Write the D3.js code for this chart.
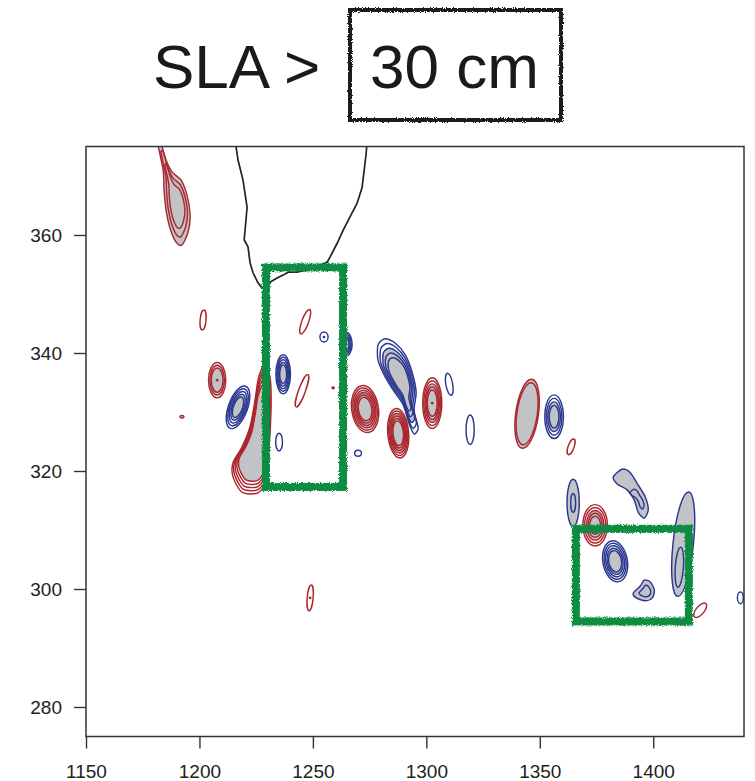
<!DOCTYPE html>
<html>
<head>
<meta charset="utf-8">
<script src="https://cdn.jsdelivr.net/npm/d3@7"></script>
<style>
  body { margin: 0; background: #fff; }
  svg { display: block; font-family: "Liberation Sans", Arial, sans-serif; }
</style>
</head>
<body>
<div id="chart"></div>
<script>
const width = 755, height = 781;

// axis ticks
const xTicks = [1150, 1200, 1250, 1300, 1350, 1400];
const yTicks = [280, 300, 320, 340, 360];

// elliptical eddies: x, y, rx, ry (data units), rot (deg), rings, ring step, filled ring, centre dot
const anticyclones = [
  {x: 1201.6, y: 345.6, rx: 1.3, ry: 1.7, rot: 5,  n: 1},
  {x: 1246.6, y: 345.3, rx: 1.5, ry: 2.2, rot: 20, n: 1},
  {x: 1207.8, y: 335.4, rx: 3.8, ry: 3.0, rot: 0,  n: 3, step: 0.16, fill: 1, dot: true},
  {x: 1245.2, y: 333.6, rx: 1.5, ry: 2.9, rot: 20, n: 1},
  {x: 1273.0, y: 330.5, rx: 5.9, ry: 4.0, rot: -8, n: 6, step: 0.1, fill: 2},
  {x: 1287.6, y: 326.4, rx: 4.6, ry: 4.2, rot: -5, n: 6, step: 0.1, fill: 2},
  {x: 1302.6, y: 331.5, rx: 4.2, ry: 4.3, rot: 0,  n: 5, step: 0.12, fill: 2, dot: true},
  {x: 1344.4, y: 329.7, rx: 5.0, ry: 5.9, rot: 8,  n: 2, step: 0.1, fill: 0},
  {x: 1363.8, y: 324.1, rx: 1.3, ry: 1.4, rot: 20, n: 1},
  {x: 1374.4, y: 310.8, rx: 5.4, ry: 3.5, rot: 0,  n: 5, step: 0.14, fill: 2},
  {x: 1420.7, y: 296.4, rx: 1.8, ry: 1.5, rot: 40, n: 1},
  {x: 1192.3, y: 329.2, rx: 0.9, ry: 0.2, rot: 0,  n: 1},
  {x: 1248.8, y: 298.5, rx: 1.3, ry: 2.2, rot: 5,  n: 1, dot: true},
  {x: 1258.9, y: 334.1, rx: 0.5, ry: 0.15, rot: 0, n: 1}
];

const cyclones = [
  {x: 1254.9, y: 342.7, rx: 1.8, ry: 0.85, rot: 0,  n: 1, dot: true},
  {x: 1264.6, y: 341.5, rx: 2.7, ry: 2.0, rot: 0,  n: 4, step: 0.17, fill: 1, dot: true},
  {x: 1217.0, y: 330.8, rx: 4.2, ry: 3.8, rot: 20, n: 5, step: 0.13, fill: 3},
  {x: 1235.1, y: 324.9, rx: 1.5, ry: 1.5, rot: 0,  n: 1},
  {x: 1236.9, y: 336.4, rx: 3.2, ry: 3.3, rot: 0,  n: 5, step: 0.13, fill: 3},
  {x: 1269.9, y: 323.0, rx: 1.5, ry: 0.5, rot: 0,  n: 1},
  {x: 1310.1, y: 334.7, rx: 1.5, ry: 1.9, rot: -10, n: 1},
  {x: 1319.3, y: 327.0, rx: 1.8, ry: 2.5, rot: 0,  n: 1},
  {x: 1356.3, y: 329.2, rx: 4.1, ry: 3.7, rot: 0,  n: 4, step: 0.16, fill: 2},
  {x: 1364.7, y: 314.6, rx: 2.7, ry: 4.0, rot: 0,  n: 2, step: 0.6, fill: 0},
  {x: 1383.2, y: 304.7, rx: 5.4, ry: 3.5, rot: -10, n: 5, step: 0.12, fill: 3},
  {x: 1413.2, y: 307.6, rx: 4.5, ry: 8.9, rot: 6,  n: 1, fill: 0},
  {x: 1411.5, y: 303.7, rx: 1.8, ry: 3.4, rot: 4,  n: 1},
  {x: 1438.4, y: 298.5, rx: 1.3, ry: 1.0, rot: 0,  n: 1}
];

// irregular eddies: outer contour points, inner rings shrink towards the core
const shapedEddies = [
  {type: "A", core: [1190.1, 365.4], n: 3, step: 0.2, fill: 0, pts: [
    [1182.6, 376.1], [1185.3, 372.7], [1187.9, 370.7], [1191.9, 369.3], [1194.5, 366.8],
    [1195.9, 363.4], [1195.0, 360.5], [1192.3, 358.3], [1189.7, 358.8], [1187.0, 361.2],
    [1185.3, 364.2], [1184.4, 367.6], [1184.0, 371.0], [1181.3, 376.1]]},
  {type: "A", core: [1225.4, 324.4], n: 5, step: 0.065, fill: 4, pts: [
    [1228.9, 338.0], [1231.1, 335.9], [1231.6, 332.0], [1231.1, 326.4], [1230.2, 321.9],
    [1229.8, 318.5], [1225.8, 316.3], [1218.8, 316.4], [1214.8, 319.0], [1214.8, 321.4],
    [1218.8, 324.1], [1222.3, 327.5], [1224.5, 332.0], [1225.8, 335.4], [1227.6, 337.5]]},
  {type: "C", core: [1289.3, 335.1], n: 5, step: 0.11, fill: 2, pts: [
    [1278.7, 341.4], [1281.8, 342.4], [1286.2, 341.7], [1290.7, 339.7], [1293.7, 336.8],
    [1295.5, 333.4], [1294.6, 330.3], [1296.4, 327.3], [1294.6, 326.3], [1292.4, 328.0],
    [1289.8, 331.2], [1285.4, 333.7], [1281.4, 336.3], [1278.7, 338.8]]},
  {type: "C", core: [1394.7, 314.6], n: 2, step: 0.6, fill: 0, pts: [
    [1382.4, 319.0], [1386.3, 320.3], [1389.9, 319.7], [1393.4, 317.6], [1396.5, 315.6],
    [1397.8, 313.4], [1396.0, 312.0], [1393.4, 313.0], [1391.6, 315.1], [1388.5, 316.8],
    [1384.1, 317.8]]},
  {type: "C", core: [1396.9, 299.5], n: 2, step: 0.45, fill: 0, pts: [
    [1391.2, 299.3], [1394.3, 300.5], [1396.0, 301.5], [1398.7, 301.2], [1400.5, 299.8],
    [1399.6, 298.5], [1396.5, 298.0], [1392.5, 298.5]]}
];

const coast = [
  [1215.7, 376.1], [1217.0, 372.7], [1219.2, 369.3], [1221.0, 364.7], [1220.1, 360.8],
  [1219.7, 359.2], [1221.4, 358.0], [1222.3, 355.3], [1223.6, 353.6], [1225.8, 351.9],
  [1227.6, 351.0], [1228.9, 351.2], [1231.1, 352.0], [1234.2, 352.7], [1236.9, 353.2],
  [1239.1, 353.7], [1243.0, 353.7], [1247.4, 354.1], [1251.9, 354.6], [1256.3, 355.4],
  [1257.6, 356.3], [1260.7, 358.6], [1263.3, 360.8], [1266.4, 363.1], [1269.5, 365.4],
  [1271.7, 368.1], [1272.6, 371.0], [1273.5, 373.9], [1273.9, 376.1]
];

// green boxes: x0, x1, y0, y1
const boxes = [
  [1229.3, 1263.3, 317.3, 354.5],
  [1365.9, 1415.7, 294.5, 310.2]
];

const red = "#ab262e", blue = "#2b3890", gray = "#c2c3c6", green = "#078c42";

const x = d3.scaleLinear().domain([1150, 1440]).range([86, 744]);
const y = d3.scaleLinear().domain([275, 375]).range([736.5, 146.5]);

const svg = d3.select("#chart").append("svg")
    .attr("width", width)
    .attr("height", height);

const defs = svg.append("defs");
defs.append("clipPath").attr("id", "plot")
  .append("rect")
    .attr("x", 86).attr("y", 146.5)
    .attr("width", 658).attr("height", 590);

let rough = defs.append("filter").attr("id", "rough")
    .attr("x", "-5%").attr("y", "-5%").attr("width", "110%").attr("height", "110%");
rough.append("feTurbulence").attr("type", "fractalNoise")
    .attr("baseFrequency", 0.9).attr("numOctaves", 2).attr("seed", 4).attr("result", "n");
rough.append("feDisplacementMap").attr("in", "SourceGraphic").attr("in2", "n")
    .attr("scale", 3.5).attr("xChannelSelector", "R").attr("yChannelSelector", "G");

let rough2 = defs.append("filter").attr("id", "rough2")
    .attr("x", "-10%").attr("y", "-10%").attr("width", "120%").attr("height", "120%");
rough2.append("feTurbulence").attr("type", "fractalNoise")
    .attr("baseFrequency", 1.2).attr("numOctaves", 2).attr("seed", 9).attr("result", "n");
rough2.append("feDisplacementMap").attr("in", "SourceGraphic").attr("in2", "n")
    .attr("scale", 4).attr("xChannelSelector", "R").attr("yChannelSelector", "G");

// title
svg.append("text")
    .attr("x", 153).attr("y", 88)
    .attr("font-size", 62).attr("fill", "#1a1a1a")
    .text("SLA >");
svg.append("rect")
    .attr("x", 350).attr("y", 10)
    .attr("width", 211).attr("height", 110)
    .attr("fill", "none").attr("stroke", "#1a1a1a").attr("stroke-width", 4)
    .attr("filter", "url(#rough)");
svg.append("text")
    .attr("x", 370).attr("y", 88)
    .attr("font-size", 62).attr("fill", "#1a1a1a")
    .text("30 cm");

// axes
let xAxis = svg.append("g")
    .attr("transform", "translate(0,736.5)")
    .call(d3.axisBottom(x).tickValues(xTicks).tickFormat(d3.format("d")).tickSize(12).tickPadding(16));
let yAxis = svg.append("g")
    .attr("transform", "translate(86,0)")
    .call(d3.axisLeft(y).tickValues(yTicks).tickFormat(d3.format("d")).tickSize(12).tickPadding(12));
[xAxis, yAxis].forEach(a => {
  a.select(".domain").remove();
  a.selectAll("line").attr("stroke", "#333").attr("stroke-width", 1.4);
  a.selectAll("text").attr("font-size", 19).attr("fill", "#222")
    .attr("font-family", "Liberation Sans, Arial, sans-serif");
});

const plot = svg.append("g").attr("clip-path", "url(#plot)");

function ringScales(d) {
  return d3.range(d.n).map(k => 1 - k * (d.step || 0));
}

function drawEllipse(d, color) {
  let cx = x(d.x), cy = y(d.y);
  let rx = x(d.x + d.rx) - cx, ry = cy - y(d.y + d.ry);
  let g = plot.append("g")
      .attr("transform", `translate(${cx},${cy}) rotate(${d.rot || 0})`);
  let sc = ringScales(d);
  if (d.fill != null) {
    g.append("ellipse")
      .attr("rx", rx * sc[d.fill]).attr("ry", ry * sc[d.fill])
      .attr("fill", gray);
  }
  g.selectAll("ellipse.ring").data(sc).enter()
    .append("ellipse")
      .attr("class", "ring")
      .attr("rx", s => rx * s).attr("ry", s => ry * s)
      .attr("fill", "none").attr("stroke", color).attr("stroke-width", 1.45);
  if (d.dot) g.append("circle").attr("r", 1.4).attr("fill", color);
}

const ringLine = d3.line().curve(d3.curveCardinalClosed.tension(0.2));

function drawShape(d) {
  let color = d.type == "A" ? red : blue;
  let c = [x(d.core[0]), y(d.core[1])];
  let pts = d.pts.map(p => [x(p[0]), y(p[1])]);
  let ring = s => ringLine(pts.map(p => [c[0] + (p[0] - c[0]) * s, c[1] + (p[1] - c[1]) * s]));
  let sc = ringScales(d);
  if (d.fill != null) plot.append("path").attr("d", ring(sc[d.fill])).attr("fill", gray);
  plot.selectAll(null).data(sc).enter()
    .append("path")
      .attr("d", ring)
      .attr("fill", "none").attr("stroke", color).attr("stroke-width", 1.45);
}

anticyclones.forEach(d => drawEllipse(d, red));
cyclones.forEach(d => drawEllipse(d, blue));
shapedEddies.forEach(drawShape);

// coastline
plot.append("path")
    .attr("d", d3.line().x(d => x(d[0])).y(d => y(d[1]))(coast))
    .attr("fill", "none").attr("stroke", "#222").attr("stroke-width", 1.7);

// green boxes
plot.selectAll("rect.box").data(boxes).enter()
  .append("rect")
    .attr("class", "box")
    .attr("x", b => x(b[0])).attr("y", b => y(b[3]))
    .attr("width", b => x(b[1]) - x(b[0]))
    .attr("height", b => y(b[2]) - y(b[3]))
    .attr("fill", "none").attr("stroke", green).attr("stroke-width", 8)
    .attr("filter", "url(#rough2)");

// frame
svg.append("rect")
    .attr("x", 86).attr("y", 146.5)
    .attr("width", 658).attr("height", 590)
    .attr("fill", "none").attr("stroke", "#333").attr("stroke-width", 1.5);
</script>
</body>
</html>
